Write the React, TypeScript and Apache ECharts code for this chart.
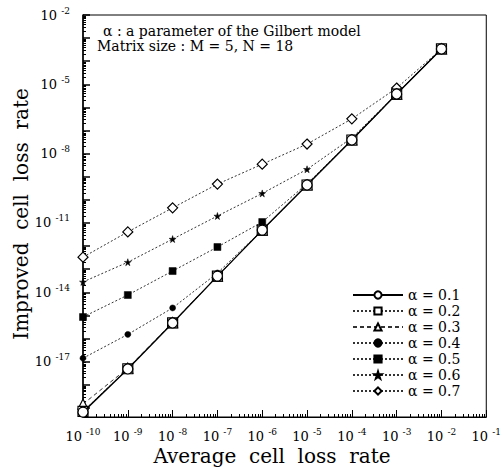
import React, { useEffect, useRef } from "react";
import * as echarts from "echarts";

// Average cell loss rate (x) values
const xValues = [1e-10, 1e-9, 1e-8, 1e-7, 1e-6, 1e-5, 1e-4, 1e-3, 1e-2];

// Improved cell loss rate for each alpha
const alpha01 = [6.5e-20, 4.8e-18, 4.7e-16, 5.0e-14, 4.9e-12, 4.4e-10, 3.9e-8, 3.8e-6, 3.4e-4];
const alpha02 = [7.0e-20, 4.9e-18, 4.7e-16, 5.0e-14, 4.9e-12, 4.4e-10, 3.9e-8, 3.8e-6, 3.4e-4];
const alpha03 = [1.45e-19, 5.2e-18, 4.9e-16, 5.0e-14, 4.9e-12, 4.4e-10, 3.9e-8, 3.8e-6, 3.4e-4];
const alpha04 = [1.4e-17, 1.5e-16, 2.1e-15, 6.8e-14, 4.9e-12, 4.4e-10, 3.9e-8, 3.8e-6, 3.4e-4];
const alpha05 = [8.5e-16, 7.6e-15, 8.3e-14, 9.1e-13, 1.1e-11, 5.0e-10, 3.9e-8, 3.8e-6, 3.4e-4];
const alpha06 = [2.8e-14, 2.0e-13, 2.0e-12, 2.0e-11, 1.9e-10, 2.1e-9, 4.8e-8, 3.8e-6, 3.4e-4];
const alpha07 = [3.3e-13, 4.1e-12, 4.5e-11, 4.8e-10, 3.5e-9, 2.6e-8, 3.2e-7, 6.9e-6, 3.4e-4];

const seriesNames = ["α = 0.1", "α = 0.2", "α = 0.3", "α = 0.4", "α = 0.5", "α = 0.6", "α = 0.7"];
const seriesValues = [alpha01, alpha02, alpha03, alpha04, alpha05, alpha06, alpha07];

// Tick labels (powers of ten)
const xLabelExponents = [-10, -9, -8, -7, -6, -5, -4, -3, -2, -1];
const yLabelExponents = [-17, -14, -11, -8, -5, -2];
const yTickExponents = [-19, -18, -17, -16, -15, -14, -13, -12, -11, -10, -9, -8, -7, -6, -5, -4, -3, -2];
const minorMultipliers = [2, 3, 4, 5, 6, 7, 8, 9];

const annotationLines = ["α : a parameter of the Gilbert model", "Matrix size : M = 5, N = 18"];
const xTitle = "Average  cell  loss  rate";
const yTitle = "Improved  cell  loss  rate";

const SERIF = "DejaVu Serif";
const STAR = "path://M50,0 L61,35 L98,35 L68,57 L79,91 L50,70 L21,91 L32,57 L2,35 L39,35 Z";

const styles = [
  { symbol: "circle", size: 10, open: true, line: "solid", width: 1.4 },
  { symbol: "rect", size: 10, open: true, line: [2, 2], width: 1 },
  { symbol: "triangle", size: 10, open: true, line: [4, 3], width: 1 },
  { symbol: "circle", size: 6, open: false, line: [2, 2], width: 1 },
  { symbol: "rect", size: 7, open: false, line: [2, 2], width: 1 },
  { symbol: STAR, size: 7, open: false, line: [2, 2], width: 1 },
  { symbol: "diamond", size: 10, open: true, line: [2, 2], width: 1 },
];

const X_MIN = 1e-10;
const X_MAX = 1e-1;
const Y_MIN = 4e-20;
const Y_MAX = 1e-2;

function pow10(e: number) {
  return Number("1e" + e);
}

function minorValues(fromExp: number, toExp: number, lo: number, hi: number) {
  const out: number[] = [];
  for (let e = fromExp; e <= toExp; e++) {
    for (const m of minorMultipliers) {
      const v = Number(m + "e" + e);
      if (v > lo && v < hi) out.push(v);
    }
  }
  return out;
}

function labelText(v: number) {
  const e = Math.round(Math.log10(v));
  return "{b|10 }{s|-" + Math.abs(e) + "}";
}

const rich = {
  b: { fontFamily: SERIF, fontSize: 13, lineHeight: 18, color: "#000" },
  s: { fontFamily: SERIF, fontSize: 9, lineHeight: 9, verticalAlign: "top", color: "#000" },
};

export default function App() {
  const ref = useRef<HTMLDivElement>(null);
  useEffect(() => {
    if (!ref.current) return;
    const chart = echarts.init(ref.current, null, { renderer: "svg" });
    const series = seriesValues.map((vals, i) => {
      const st = styles[i];
      return {
        name: seriesNames[i],
        type: "line",
        xAxisIndex: 0,
        yAxisIndex: 0,
        data: xValues.map((x, j) => [x, vals[j]]),
        symbol: st.symbol,
        symbolSize: st.size,
        clip: false,
        z: 10 - i,
        lineStyle: { color: st.line === "solid" ? "#000" : "#333", width: st.width, type: st.line },
        itemStyle: st.open
          ? { color: "#fff", borderColor: "#000", borderWidth: 1.2 }
          : { color: "#000", borderColor: "#000", borderWidth: 0.5 },
      };
    });
    const xMinor = minorValues(-10, -2, X_MIN, X_MAX);
    const yMinor = minorValues(-20, -3, Y_MIN, Y_MAX);
    chart.setOption({
      animation: false,
      backgroundColor: "#fff",
      grid: {
        left: 83,
        right: 17,
        top: 15,
        bottom: 53,
        show: true,
        borderColor: "#000",
        borderWidth: 1,
      },
      legend: {
        orient: "vertical",
        left: 347,
        top: 283,
        itemWidth: 50,
        itemHeight: 9,
        itemGap: 2,
        data: seriesNames,
        textStyle: { fontFamily: SERIF, fontSize: 14, lineHeight: 14, color: "#000" },
      },
      xAxis: [
        {
          type: "log",
          logBase: 10,
          min: X_MIN,
          max: X_MAX,
          axisLine: { lineStyle: { color: "#000", width: 1 } },
          axisTick: {
            show: true,
            inside: true,
            length: 7,
            customValues: xLabelExponents.map(pow10),
            lineStyle: { color: "#000" },
          },
          splitLine: { show: false },
          axisLabel: {
            margin: 10,
            customValues: xLabelExponents.map(pow10),
            formatter: (v: number) => labelText(v),
            rich,
          },
        },
        {
          type: "log",
          logBase: 10,
          min: X_MIN,
          max: X_MAX,
          position: "bottom",
          axisLine: { show: false },
          axisTick: {
            show: true,
            inside: true,
            length: 3,
            customValues: xMinor,
            lineStyle: { color: "#000" },
          },
          splitLine: { show: false },
          axisLabel: { show: false },
        },
      ],
      yAxis: [
        {
          type: "log",
          logBase: 10,
          min: Y_MIN,
          max: Y_MAX,
          axisLine: { lineStyle: { color: "#000", width: 1.5 } },
          axisTick: {
            show: true,
            inside: true,
            length: 7,
            customValues: yTickExponents.map(pow10),
            lineStyle: { color: "#000", width: 1.5 },
          },
          splitLine: { show: false },
          axisLabel: {
            margin: 13,
            customValues: yLabelExponents.map(pow10),
            formatter: (v: number) => labelText(v),
            rich,
          },
        },
        {
          type: "log",
          logBase: 10,
          min: Y_MIN,
          max: Y_MAX,
          position: "left",
          axisLine: { show: false },
          axisTick: {
            show: true,
            inside: true,
            length: 3,
            customValues: yMinor,
            lineStyle: { color: "#000" },
          },
          splitLine: { show: false },
          axisLabel: { show: false },
        },
      ],
      graphic: [
        {
          type: "text",
          x: 103,
          y: 31,
          style: {
            text: annotationLines[0],
            font: "14px 'DejaVu Serif'",
            fill: "#000",
            verticalAlign: "middle",
          },
        },
        {
          type: "text",
          x: 97,
          y: 46,
          style: {
            text: annotationLines[1],
            font: "14px 'DejaVu Serif'",
            fill: "#000",
            verticalAlign: "middle",
          },
        },
        {
          type: "text",
          x: 272,
          y: 456,
          style: {
            text: xTitle,
            font: "20px 'DejaVu Serif'",
            fill: "#000",
            align: "center",
            verticalAlign: "middle",
          },
        },
        {
          type: "text",
          x: 21,
          y: 214,
          rotation: Math.PI / 2,
          style: {
            text: yTitle,
            font: "20px 'DejaVu Serif'",
            fill: "#000",
            align: "center",
            verticalAlign: "middle",
          },
        },
      ],
      series,
    });
    return () => chart.dispose();
  }, []);
  return (
    <div
      ref={ref}
      style={{ position: "absolute", left: 0, top: 0, width: 504, height: 470, background: "#fff" }}
    />
  );
}
